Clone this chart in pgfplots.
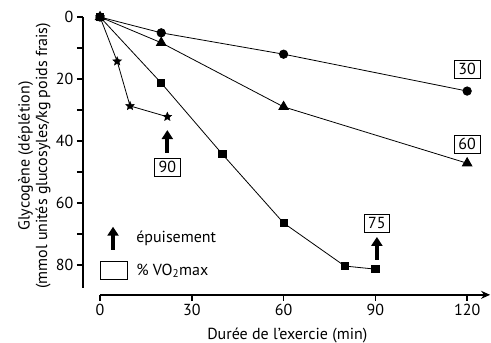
\documentclass[border=0pt]{standalone}
\usepackage{pgfplots}
\pgfplotsset{compat=1.18}
\usepackage{fontspec}
\setmainfont{PT Sans}
\usetikzlibrary{arrows.meta}
\newcommand{\lblfont}{\fontsize{16}{17.5}\selectfont}
\pgfdeclareplotmark{fstar}{%
 \pgfpathmoveto{\pgfpointpolar{90}{\pgfplotmarksize}}%
 \pgfpathlineto{\pgfpointpolar{126}{0.45\pgfplotmarksize}}%
 \pgfpathlineto{\pgfpointpolar{162}{\pgfplotmarksize}}%
 \pgfpathlineto{\pgfpointpolar{198}{0.45\pgfplotmarksize}}%
 \pgfpathlineto{\pgfpointpolar{234}{\pgfplotmarksize}}%
 \pgfpathlineto{\pgfpointpolar{270}{0.45\pgfplotmarksize}}%
 \pgfpathlineto{\pgfpointpolar{306}{\pgfplotmarksize}}%
 \pgfpathlineto{\pgfpointpolar{342}{0.45\pgfplotmarksize}}%
 \pgfpathlineto{\pgfpointpolar{18}{\pgfplotmarksize}}%
 \pgfpathlineto{\pgfpointpolar{54}{0.45\pgfplotmarksize}}%
 \pgfpathclose\pgfusepathqfillstroke}
\begin{document}
\begin{tikzpicture}
\begin{axis}[
  scale only axis, width=409pt, height=278pt,
  xmin=-5.6, xmax=128, ymin=0, ymax=89.7,
  y dir=reverse,
  clip=false,
  axis line style={draw=none},
  xtick pos=left, ytick pos=left,
  xtick={0,30,60,90,120},
  ytick={0,20,40,60,80},
  minor ytick={10,30,50,70},
  tick align=outside,
  major tick length=6pt, minor tick length=6pt,
  tick style={line width=1.6pt, black},
  every tick label/.append style={font=\lblfont},
  /pgf/number format/assume math mode=true,
  label style={font=\lblfont},
  xlabel={Durée de l'exercie (min)},
  xlabel style={yshift=-5pt},
  ylabel={Glycogène (déplétion)\\(mmol unités glucosyles/kg poids frais)},
  ylabel style={align=center, yshift=-1.5pt},
]
\draw[line width=1.6pt] (axis cs:-5.6,0) -- (axis cs:-5.6,87.4);
\draw[line width=1.6pt, -{Stealth[length=9pt,width=8pt]}] (axis cs:0,89.7) -- (axis cs:127.5,89.7);

\addplot[black, line width=0.8pt, mark=*, mark size=4.2pt] coordinates {(0,0) (20,5.1) (60,12) (120,23.9)};
\addplot[black, line width=0.8pt, mark=triangle*, mark size=5.5pt] coordinates {(0,0) (20,8.3) (60,29) (120,47.2)};
\addplot[black, line width=0.8pt, mark=square*, mark size=3.6pt] coordinates {(0,0) (20,21.3) (40,44.3) (60,66.5) (80,80.4) (90,81.4)};
\addplot[black, line width=0.8pt, mark=fstar, mark size=4.6pt, mark options={line width=0.4pt}] coordinates {(0,0) (5.6,14.3) (9.8,28.7) (22,32.2)};

\tikzset{vbox/.style={draw, line width=0.8pt, minimum width=26pt, minimum height=18pt, inner sep=0pt, font=\lblfont},
         fat/.style={line width=4pt, -{Triangle[length=9pt,width=11pt]}}}
\node[vbox] at (axis cs:120,16.8) {30};
\node[vbox] at (axis cs:120,41) {60};
\node[vbox] at (axis cs:22,48.4) {90};
\node[vbox] at (axis cs:90.5,66.5) {75};
\draw[fat] (axis cs:22,43.9) -- (axis cs:22,36.5);
\draw[fat] (axis cs:90.5,78.4) -- (axis cs:90.5,71);
\draw[fat] (axis cs:4.25,75.2) -- (axis cs:4.25,67.7);
\draw[line width=0.8pt] (axis cs:0,79) rectangle (axis cs:8.8,84.8);
\node[anchor=west, inner sep=0pt, font=\lblfont] at (axis cs:11.8,71.6) {épuisement};
\node[anchor=west, inner sep=0pt, font=\lblfont] at (axis cs:11.8,82) {\% VO\textsubscript{2}max};
\coordinate (bbTL) at (axis cs:-32.7,-5.5);
\coordinate (bbBR) at (axis cs:127.8,105.2);
\end{axis}
\pgfresetboundingbox
\path[use as bounding box] (bbTL) rectangle (bbBR);
\end{tikzpicture}
\end{document}
